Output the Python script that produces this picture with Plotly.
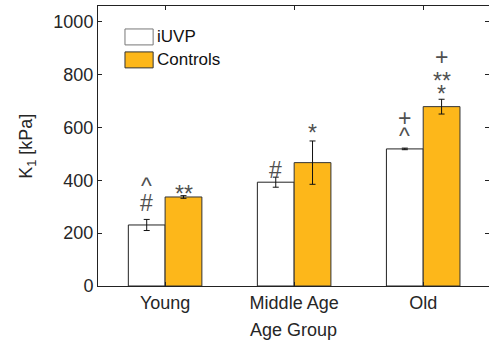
import plotly.graph_objects as go

categories = ["Young", "Middle Age", "Old"]
iuvp = [231, 393, 519]
iuvp_err = [21, 19, 3]
ctrl = [337, 467, 679]
ctrl_err = [5, 82, 28]
y_ticks = [0, 200, 400, 600, 800, 1000]

# significance markers: (category index, group, label, y position in kPa)
sig_labels = ["^", "#", "**", "#", "*", "+", "^", "+", "**", "*"]
sig_cat = [0, 0, 0, 1, 1, 2, 2, 2, 2, 2]
sig_group = ["iUVP", "iUVP", "Controls", "iUVP", "Controls", "iUVP", "iUVP", "Controls", "Controls", "Controls"]
sig_y = [378, 314, 350, 439, 580, 637, 566, 867, 777, 727]

ORANGE = "#FDB71A"
FONT = "Liberation Sans, Arial, sans-serif"
TXT = "#262626"

fig = go.Figure()
fig.add_trace(go.Bar(
    x=categories, y=iuvp, name="iUVP",
    marker=dict(color="white", line=dict(color="#222222", width=1)),
    error_y=dict(type="data", array=iuvp_err, color="#111111", thickness=1, width=3),
))
fig.add_trace(go.Bar(
    x=categories, y=ctrl, name="Controls",
    marker=dict(color=ORANGE, line=dict(color="#333333", width=1)),
    error_y=dict(type="data", array=ctrl_err, color="#111111", thickness=1, width=3),
))
# invisible trace for right-side mirrored ticks
fig.add_trace(go.Scatter(x=categories, y=[None]*3, yaxis="y2", showlegend=False, hoverinfo="skip"))

off = 0.143
for lab, ci, g, yv in zip(sig_labels, sig_cat, sig_group, sig_y):
    fig.add_annotation(
        x=ci + (-off if g == "iUVP" else off), y=yv, xref="x", yref="y",
        text=lab, showarrow=False, font=dict(family=FONT, size=23, color="#505050"),
        yanchor="middle", xanchor="center",
    )

# legend drawn manually
leg_items = [("iUVP", "white", "#777777", 0.918, 0.861), ("Controls", ORANGE, "#333333", 0.836, 0.779)]
for name, fc, lc, y1, y0 in leg_items:
    fig.add_shape(type="rect", xref="paper", yref="paper", x0=0.069, x1=0.141, y0=y0, y1=y1,
                  fillcolor=fc, line=dict(color=lc, width=1))
    fig.add_annotation(x=0.146, y=(y0 + y1) / 2, xref="paper", yref="paper", text=name,
                       showarrow=False, xanchor="left", yanchor="middle",
                       font=dict(family=FONT, size=17, color="#111111"))

# axis titles
fig.add_annotation(x=0.5, y=-0.157, xref="paper", yref="paper", text="Age Group",
                   showarrow=False, xanchor="center", yanchor="middle",
                   font=dict(family=FONT, size=18, color=TXT))
fig.add_annotation(x=-0.182, y=0.5, xref="paper", yref="paper", text="K<sub>1</sub> [kPa]",
                   showarrow=False, xanchor="center", yanchor="middle", textangle=-90,
                   font=dict(family=FONT, size=18, color=TXT))

fig.update_layout(
    width=489, height=345,
    margin=dict(l=98, r=0, t=6, b=59, autoexpand=False),
    paper_bgcolor="white", plot_bgcolor="white",
    barmode="group", bargap=0.43, bargroupgap=0,
    showlegend=False,
    font=dict(family=FONT, size=18, color=TXT),
    xaxis=dict(
        type="category", range=[-0.52, 2.51], automargin=False,
        showline=True, linecolor="#222222", linewidth=1, mirror="ticks",
        ticks="inside", ticklen=4, tickcolor="#222222",
        tickfont=dict(size=18, color=TXT),
        showgrid=False, zeroline=False,
    ),
    yaxis=dict(
        range=[0, 1060], tickvals=y_ticks, automargin=False,
        showline=True, linecolor="#222222", linewidth=1, mirror=False,
        ticks="inside", ticklen=4, tickcolor="#222222",
        tickfont=dict(size=18, color=TXT),
        showgrid=False, zeroline=False,
    ),
    yaxis2=dict(
        range=[0, 1060], tickvals=y_ticks, overlaying="y", side="right", anchor="x",
        automargin=False,
        showline=False, ticks="inside", ticklen=4, tickcolor="#222222",
        showticklabels=False, showgrid=False, zeroline=False,
    ),
)

fig.write_html(
    "out.html",
    config={"displayModeBar": False},
    post_script="document.body.style.margin='0';document.body.style.overflow='hidden';",
)
